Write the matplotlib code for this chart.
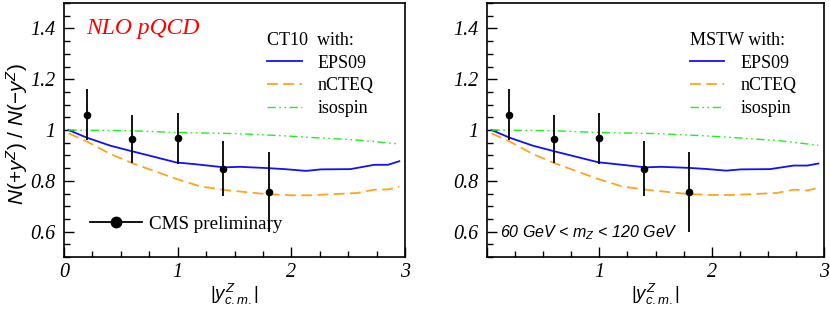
import matplotlib
matplotlib.use("Agg")
import matplotlib.pyplot as plt
from matplotlib.lines import Line2D
from matplotlib.legend import Legend
from matplotlib.ticker import MultipleLocator, FixedLocator, FuncFormatter

# ---- data ----
data_x = [0.2, 0.6, 1.0, 1.4, 1.8]
data_y = [1.06, 0.965, 0.967, 0.848, 0.757]
data_err = [0.10, 0.093, 0.10, 0.107, 0.158]

# CT10 panel
ct_eps_x = [0.04, 0.2, 0.41, 0.61, 0.7, 0.99, 1.14, 1.41, 1.55, 1.79, 1.94, 2.13, 2.26, 2.52, 2.73, 2.85, 2.95]
ct_eps_y = [1.0, 0.97, 0.938, 0.915, 0.905, 0.872, 0.866, 0.853, 0.855, 0.85, 0.846, 0.839, 0.845, 0.846, 0.863, 0.863, 0.877]
ct_ncteq_x = [0.04, 0.2, 0.41, 0.61, 0.99, 1.2, 1.41, 1.79, 2.0, 2.17, 2.58, 2.73, 2.85, 2.95]
ct_ncteq_y = [0.987, 0.955, 0.905, 0.868, 0.807, 0.778, 0.764, 0.747, 0.743, 0.743, 0.752, 0.765, 0.766, 0.777]
ct_iso_x = [0.04, 0.6, 1.0, 1.5, 1.9, 2.2, 2.6, 2.95]
ct_iso_y = [1.0, 0.997, 0.99, 0.986, 0.978, 0.97, 0.96, 0.945]

# MSTW panel
ms_eps_x = [0.04, 0.2, 0.41, 0.61, 0.7, 0.99, 1.14, 1.41, 1.55, 1.79, 1.94, 2.13, 2.26, 2.52, 2.73, 2.85, 2.95]
ms_eps_y = [1.0, 0.97, 0.938, 0.915, 0.905, 0.873, 0.866, 0.853, 0.855, 0.851, 0.847, 0.840, 0.845, 0.846, 0.860, 0.860, 0.868]
ms_ncteq_x = [0.04, 0.2, 0.41, 0.61, 0.99, 1.2, 1.41, 1.79, 2.0, 2.17, 2.58, 2.73, 2.85, 2.95]
ms_ncteq_y = [0.987, 0.955, 0.905, 0.868, 0.807, 0.778, 0.765, 0.748, 0.744, 0.744, 0.752, 0.765, 0.762, 0.772]
ms_iso_x = [0.04, 0.6, 1.0, 1.5, 1.9, 2.2, 2.6, 2.95]
ms_iso_y = [1.0, 0.997, 0.99, 0.986, 0.978, 0.97, 0.958, 0.94]

y_ticks = [0.6, 0.8, 1.0, 1.2, 1.4]
x_ticks = [0, 1, 2, 3]

SERIF = "Liberation Serif"
SANS = "Liberation Sans"

plt.rcParams["mathtext.fontset"] = "custom"
plt.rcParams["mathtext.it"] = "Liberation Sans:italic"
plt.rcParams["mathtext.rm"] = "Liberation Sans"

fig = plt.figure(figsize=(8.3, 3.09), dpi=100)
axL = fig.add_axes([64/830, 1-257/309, (405-64)/830, 254/309])
axR = fig.add_axes([487/830, 1-257/309, (824-487)/830, 254/309])

iso_dash = (0, (6, 2.5, 1.2, 2.5, 1.2, 2.5))

def fmt(v, pos):
    if abs(v - round(v)) < 1e-9:
        return "%d" % round(v)
    return ("%.1f" % v)

def setup(ax, show_zero):
    ax.set_xlim(0, 3)
    ax.set_ylim(0.5, 1.5)
    ax.xaxis.set_major_locator(FixedLocator(x_ticks))
    ax.xaxis.set_minor_locator(MultipleLocator(0.25))
    ax.yaxis.set_major_locator(FixedLocator(y_ticks))
    ax.yaxis.set_minor_locator(MultipleLocator(0.05))
    ax.yaxis.set_major_formatter(FuncFormatter(fmt))
    if show_zero:
        ax.xaxis.set_major_formatter(FuncFormatter(fmt))
    else:
        ax.xaxis.set_major_formatter(FuncFormatter(lambda v, p: "" if v == 0 else fmt(v, p)))
    ax.tick_params(which="both", direction="in", top=False, right=False, width=1.0)
    ax.tick_params(which="major", length=7)
    ax.tick_params(which="minor", length=4)
    ax.tick_params(axis="x", pad=4)
    ax.tick_params(axis="y", pad=6)
    for lab in ax.get_xticklabels() + ax.get_yticklabels():
        lab.set_fontfamily(SERIF)
        lab.set_fontstyle("italic")
        lab.set_fontsize(14.5)
    for s in ax.spines.values():
        s.set_linewidth(1.2)
    ax.set_xlabel(r"$|y^{Z}_{c.m.}|$", fontsize=13.5, labelpad=0)

def panel(ax, ex, ey, nx, ny, ix, iy, title, anchor_x):
    l1, = ax.plot(ex, ey, color="#1010ff", lw=1.3)
    l2, = ax.plot(nx, ny, color="#ffa41c", lw=1.3, ls=(0, (6, 3)))
    l3, = ax.plot(ix, iy, color="#22ee22", lw=1.0, ls=iso_dash)
    ax.errorbar(data_x, data_y, yerr=data_err, fmt="o", color="black",
                ms=4.5, elinewidth=1.3, capsize=0, zorder=5)
    leg = ax.legend([l1, l2, l3], ["EPS09", "nCTEQ", "isospin"], title=title,
                    loc="upper left", bbox_to_anchor=(anchor_x, 0.915), frameon=False,
                    prop={"family": SERIF, "size": 13}, handlelength=1.9,
                    handletextpad=0.9, labelspacing=0.32, borderaxespad=0,
                    alignment="left")
    leg.get_title().set_fontfamily(SERIF)
    leg.get_title().set_fontsize(13)
    return leg

setup(axL, True)
setup(axR, False)
panel(axL, ct_eps_x, ct_eps_y, ct_ncteq_x, ct_ncteq_y, ct_iso_x, ct_iso_y, "CT10  with:", 0.575)
panel(axR, ms_eps_x, ms_eps_y, ms_ncteq_x, ms_ncteq_y, ms_iso_x, ms_iso_y, "MSTW with:", 0.58)

# CMS preliminary legend (left panel)
h = Line2D([], [], color="black", marker="o", ms=7.5, lw=1.3)
leg2 = Legend(axL, [h], ["CMS preliminary"], loc="lower left",
              bbox_to_anchor=(0.055, 0.065), frameon=False,
              prop={"family": SERIF, "size": 13.7}, handlelength=2.7,
              handletextpad=0.4, borderaxespad=0)
axL.add_artist(leg2)

axL.text(0.065, 0.9, "NLO pQCD", transform=axL.transAxes, color="#ff0000",
         fontfamily=SERIF, fontstyle="italic", fontsize=17, va="center")

axR.text(0.04, 0.095, r"60 GeV < m$_{Z}$ < 120 GeV", transform=axR.transAxes,
         fontfamily=SANS, fontstyle="italic", fontsize=11.5, va="center")

axL.set_ylabel(r"$N(+y^{Z})\ /\ N(-y^{Z})$", fontsize=15)
axL.yaxis.set_label_coords(-0.1, 0.485)

fig.savefig("out.png", dpi=100)
